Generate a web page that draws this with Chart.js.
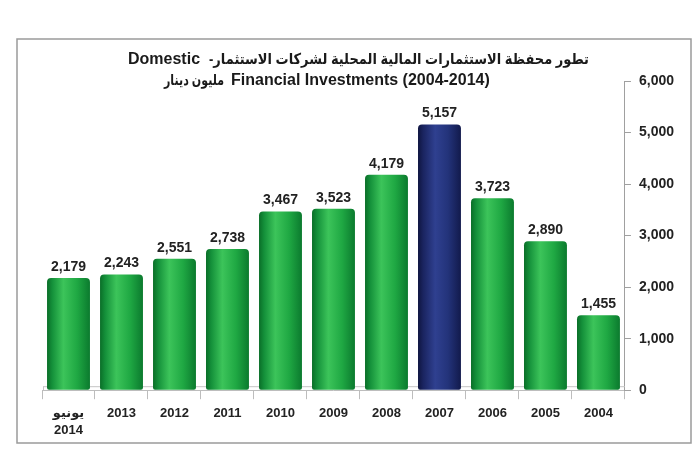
<!DOCTYPE html>
<html><head><meta charset="utf-8">
<script src="https://cdn.jsdelivr.net/npm/chart.js@4.4.0/dist/chart.umd.min.js"></script>
<style>html,body{margin:0;padding:0;background:#fff;}</style>
</head><body>
<canvas id="c" width="695" height="450"></canvas>
<script>
// ---- data ----
const categories = [["يونيو", "2014"], "2013", "2012", "2011", "2010", "2009", "2008", "2007", "2006", "2005", "2004"];
const values = [2179, 2243, 2551, 2738, 3467, 3523, 4179, 5157, 3723, 2890, 1455];
const highlightIndex = 7; // 2007
const yMax = 6000;
const yStep = 1000;
const titleArabic1 = "تطور محفظة الاستثمارات المالية المحلية لشركات الاستثمار-";
const titleLatin1 = "Domestic";
const titleLatin2 = "Financial Investments (2004-2014)";
const titleArabic2 = "مليون دينار";

const FONT = "'Liberation Sans', Arial, 'DejaVu Sans', sans-serif";
const BAR_PCT = 0.81;

function barGradient(c) {
  const chart = c.chart;
  const xs = chart.scales && chart.scales.x;
  const hi = c.dataIndex === highlightIndex;
  if (!xs || !chart.chartArea) return hi ? '#1f2d6e' : '#17a03c';
  const cx = xs.getPixelForValue(c.dataIndex);
  const w = (xs.width / categories.length) * BAR_PCT;
  const g = chart.ctx.createLinearGradient(cx - w / 2, 0, cx + w / 2, 0);
  if (hi) {
    g.addColorStop(0, '#0f1540');
    g.addColorStop(0.12, '#1a2460');
    g.addColorStop(0.4, '#2f4090');
    g.addColorStop(0.7, '#23337a');
    g.addColorStop(1, '#121a4c');
  } else {
    g.addColorStop(0, '#0a6e28');
    g.addColorStop(0.12, '#14903a');
    g.addColorStop(0.38, '#3cc45a');
    g.addColorStop(0.7, '#1fa843');
    g.addColorStop(1, '#0b7a2e');
  }
  return g;
}

const framePlugin = {
  id: 'frame',
  beforeDraw(chart) {
    const ctx = chart.ctx;
    ctx.save();
    ctx.fillStyle = '#fff';
    ctx.fillRect(0, 0, chart.width, chart.height);
    ctx.strokeStyle = '#9a9a9a';
    ctx.lineWidth = 1.5;
    ctx.strokeRect(17, 39, 674, 404);
    ctx.restore();
  }
};

const floorPlugin = {
  id: 'floor',
  beforeDatasetsDraw(chart) {
    const ctx = chart.ctx, a = chart.chartArea;
    ctx.save();
    ctx.strokeStyle = '#c4c4c4';
    ctx.lineWidth = 1;
    ctx.beginPath();
    ctx.moveTo(a.left + 1, a.bottom - 3.5);
    ctx.lineTo(a.right, a.bottom - 3.5);
    ctx.moveTo(a.left + 1.5, a.bottom - 3.5);
    ctx.lineTo(a.left + 1.5, a.bottom);
    ctx.stroke();
    ctx.restore();
  }
};

const valueLabelPlugin = {
  id: 'valueLabels',
  afterDatasetsDraw(chart) {
    const ctx = chart.ctx;
    const meta = chart.getDatasetMeta(0);
    ctx.save();
    ctx.font = "bold 14px " + FONT;
    ctx.fillStyle = '#222';
    ctx.textAlign = 'center';
    ctx.textBaseline = 'middle';
    meta.data.forEach((el, i) => {
      ctx.fillText(values[i].toLocaleString('en-US'), el.x, el.y - 11);
    });
    ctx.restore();
  }
};

function drawSeg(ctx, text, dir, left, width, size, y) {
  ctx.font = "bold " + size + "px " + FONT;
  try { ctx.direction = dir; } catch (e) {}
  ctx.textAlign = 'left';
  const mw = ctx.measureText(text).width;
  const sx = width ? width / mw : 1;
  ctx.save();
  ctx.translate(left, y);
  ctx.scale(sx, 1);
  ctx.fillText(text, 0, 0);
  ctx.restore();
  return mw * sx;
}

const titlePlugin = {
  id: 'customTitle',
  afterDraw(chart) {
    const ctx = chart.ctx;
    ctx.save();
    ctx.fillStyle = '#1a1a1a';
    ctx.textBaseline = 'middle';
    // line 1 (right-to-left reading): Arabic on the right, "Domestic" on the left
    const w1 = drawSeg(ctx, titleLatin1, 'ltr', 128, 0, 16, 60);
    const a1Left = 128 + w1 + 9;
    drawSeg(ctx, titleArabic1, 'rtl', a1Left, 589 - a1Left, 15, 60);
    // line 2: "مليون دينار" on the left, English on the right
    const w2 = drawSeg(ctx, titleArabic2, 'rtl', 164, 60, 15, 81);
    drawSeg(ctx, titleLatin2, 'ltr', 164 + w2 + 7, 0, 16, 81);
    ctx.restore();
  }
};

new Chart(document.getElementById('c'), {
  type: 'bar',
  data: {
    labels: categories,
    datasets: [{
      data: values,
      backgroundColor: barGradient,
      borderWidth: 0,
      borderRadius: { topLeft: 4, topRight: 4, bottomLeft: 2, bottomRight: 2 },
      borderSkipped: false,
      barPercentage: BAR_PCT,
      categoryPercentage: 1
    }]
  },
  options: {
    responsive: false,
    animation: false,
    devicePixelRatio: 1,
    layout: { padding: { left: 42, right: 13, top: 81, bottom: 5 } },
    plugins: { legend: { display: false }, title: { display: false }, tooltip: { enabled: false } },
    scales: {
      x: {
        offset: true,
        grid: { offset: true, drawOnChartArea: false, drawTicks: true, tickLength: 9, color: '#bdbdbd' },
        border: { display: true, color: '#bdbdbd', width: 1 },
        ticks: {
          color: '#222',
          padding: 6,
          maxRotation: 0,
          autoSkip: false,
          font: { family: FONT, size: 13, weight: 'bold', lineHeight: 1.3 }
        }
      },
      y: {
        position: 'right',
        min: 0,
        max: yMax,
        grid: { drawOnChartArea: false, drawTicks: true, tickLength: 6, color: '#a0a0a0' },
        border: { display: true, color: '#a0a0a0', width: 1 },
        ticks: {
          stepSize: yStep,
          color: '#222',
          padding: 8,
          font: { family: FONT, size: 14, weight: 'bold' },
          callback: v => v.toLocaleString('en-US')
        }
      }
    }
  },
  plugins: [framePlugin, floorPlugin, valueLabelPlugin, titlePlugin]
});
</script>
</body></html>
